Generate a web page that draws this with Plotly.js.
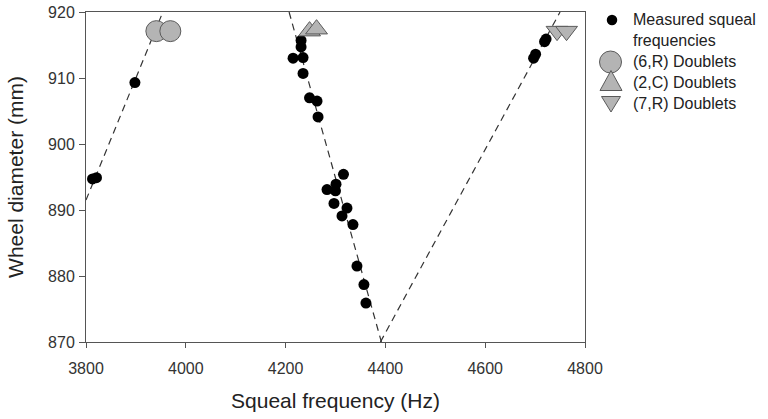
<!DOCTYPE html>
<html>
<head>
<meta charset="utf-8">
<script src="https://cdn.plot.ly/plotly-3.0.1.min.js"></script>
<style>html,body{margin:0;padding:0;background:#fff;}#chart{width:768px;height:419px;}</style>
</head>
<body>
<div id="chart"></div>
<script>
// Measured squeal frequencies (Hz) and wheel diameters (mm)
const measuredFreq = [3813, 3821, 3898,
  4231, 4231, 4215, 4235, 4235, 4248, 4263, 4265,
  4316, 4301, 4283, 4300, 4297, 4323, 4313, 4335, 4343, 4357, 4361,
  4719, 4722, 4701, 4697];
const measuredDiam = [894.7, 894.9, 909.3,
  915.7, 914.7, 913.0, 913.1, 910.7, 907.0, 906.5, 904.1,
  895.4, 893.9, 893.1, 892.9, 891.0, 890.3, 889.1, 887.8, 881.5, 878.7, 875.9,
  915.5, 915.9, 913.6, 913.0];

// Doublet predictions
const d6RFreq = [3941, 3969];
const d6RDiam = [917.1, 917.1];
const d2CFreq = [4248, 4262];
const d2CDiam = [917.1, 917.4];
const d7RFreq = [4744, 4763];
const d7RDiam = [917.1, 917.1];

// Dashed trend lines (end points in data units)
const line6RFreq = [3800, 3954];
const line6RDiam = [891.5, 920];
const line2CFreq = [4207, 4392];
const line2CDiam = [920, 870];
const line7RFreq = [4390, 4750];
const line7RDiam = [870, 920];

const xTicks = [3800, 4000, 4200, 4400, 4600, 4800];
const yTicks = [870, 880, 890, 900, 910, 920];

const legendLabels = ['Measured squeal<br>frequencies', '(6,R) Doublets', '(2,C) Doublets', '(7,R) Doublets'];

const dashStyle = {color: '#333', width: 1.2, dash: '7px,5px'};
const grayFill = '#b4b4b4';
const grayLine = '#5a5a5a';
const fontFam = 'Liberation Sans, Arial, sans-serif';

const traces = [
  {x: line6RFreq, y: line6RDiam, mode: 'lines', line: dashStyle, hoverinfo: 'skip'},
  {x: line2CFreq, y: line2CDiam, mode: 'lines', line: dashStyle, hoverinfo: 'skip'},
  {x: line7RFreq, y: line7RDiam, mode: 'lines', line: dashStyle, hoverinfo: 'skip'},
  {x: measuredFreq, y: measuredDiam, mode: 'markers', name: legendLabels[0],
   marker: {color: '#000', size: 11, line: {width: 0}}},
  {x: d6RFreq, y: d6RDiam, mode: 'markers', name: legendLabels[1],
   marker: {symbol: 'circle', color: grayFill, size: 21, line: {color: grayLine, width: 1}}},
  {x: d2CFreq, y: d2CDiam, mode: 'markers', name: legendLabels[2],
   marker: {symbol: 'triangle-up', color: grayFill, size: 19, line: {color: grayLine, width: 1}}},
  {x: d7RFreq, y: d7RDiam, mode: 'markers', name: legendLabels[3],
   marker: {symbol: 'triangle-down', color: grayFill, size: 19, line: {color: grayLine, width: 1}}}
];

// Manual legend (pixel positions converted to paper coordinates)
const plotL = 86, plotR = 585, plotT = 12, plotB = 342;
const px = v => (v - plotL) / (plotR - plotL);
const py = v => (plotB - v) / (plotB - plotT);
const textX = px(632);

function circ(cx, cy, d, fill, line) {
  return {type: 'circle', xref: 'paper', yref: 'paper',
    x0: px(cx - d / 2), x1: px(cx + d / 2), y0: py(cy + d / 2), y1: py(cy - d / 2),
    fillcolor: fill, line: {color: line, width: line === fill ? 0 : 1}};
}
function poly(pts, fill, line) {
  const d = pts.map((p, i) => (i ? 'L' : 'M') + px(p[0]) + ',' + py(p[1])).join(' ') + ' Z';
  return {type: 'path', xref: 'paper', yref: 'paper', path: d, fillcolor: fill, line: {color: line, width: 1}};
}

const shapes = [
  circ(612, 20, 10.5, '#000', '#000'),
  circ(610.5, 62, 22, grayFill, grayLine),
  poly([[600, 90.5], [622, 90.5], [611, 70.5]], grayFill, grayLine),
  poly([[601.5, 96.5], [620.5, 96.5], [611, 112]], grayFill, grayLine)
];

const legendFont = {family: fontFam, size: 16, color: '#222'};
const annotations = [
  {text: legendLabels[0], y: py(30)},
  {text: legendLabels[1], y: py(62)},
  {text: legendLabels[2], y: py(82)},
  {text: legendLabels[3], y: py(103)}
].map(a => Object.assign({xref: 'paper', yref: 'paper', x: textX, xanchor: 'left', yanchor: 'middle',
  align: 'left', showarrow: false, font: legendFont, borderpad: 0}, a));

const axisFont = {family: fontFam, size: 16, color: '#333'};
const titleFont = {family: fontFam, size: 21, color: '#222'};

const layout = {
  width: 768, height: 419,
  margin: {l: plotL, r: 768 - plotR, t: plotT, b: 419 - plotB},
  paper_bgcolor: '#fff', plot_bgcolor: '#fff',
  showlegend: false,
  shapes: shapes,
  annotations: annotations,
  xaxis: {range: [3800, 4800], tickvals: xTicks, ticktext: xTicks.map(String),
    showgrid: false, zeroline: false, showline: true, mirror: true, linecolor: '#555', linewidth: 1,
    ticks: 'outside', ticklen: 5, tickcolor: '#555', tickfont: axisFont, ticklabelstandoff: 7,
    title: {text: 'Squeal frequency (Hz)', font: titleFont, standoff: 17}},
  yaxis: {range: [870, 920], tickvals: yTicks, ticktext: yTicks.map(String),
    showgrid: false, zeroline: false, showline: true, mirror: true, linecolor: '#555', linewidth: 1,
    ticks: 'outside', ticklen: 6, tickcolor: '#555', tickfont: axisFont, ticklabelstandoff: 1,
    title: {text: 'Wheel diameter (mm)', font: titleFont, standoff: 18}}
};

Plotly.newPlot('chart', traces, layout, {displayModeBar: false, staticPlot: true});
</script>
</body>
</html>
